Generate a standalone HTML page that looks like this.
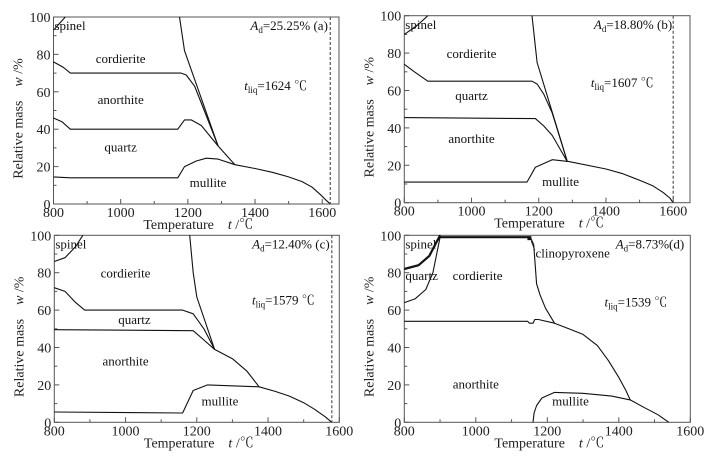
<!DOCTYPE html>
<html><head><meta charset="utf-8">
<style>
html,body{margin:0;padding:0;background:#fff;}
svg{display:block;font-family:"Liberation Serif","Noto Serif CJK SC",serif;}
</style></head>
<body>
<svg id="fig" width="724" height="456" viewBox="0 0 724 456" xmlns="http://www.w3.org/2000/svg"></svg>
<script>
// ---------- data ----------
const xTicks = [800, 1000, 1200, 1400, 1600];
const yTicks = [0, 20, 40, 60, 80, 100];

// Panel (a)
const aSpinel = [[800,93],[835,100]];
const aLiquidus = [[1175,100],[1190,82],[1290,31]];
const aCordAnor = [[800,76],[830,73],[850,70],[1180,70],[1195,69],[1220,63],[1240,54],[1290,31]];
const aAnorQtz = [[800,46],[825,44],[850,40],[1170,40],[1190,45],[1210,45],[1240,42],[1290,31],[1340,21]];
const aQtzMul = [[800,14.5],[850,14],[1170,14],[1190,20],[1225,23],[1255,24.5],[1290,24],[1340,21],[1400,19],[1450,17],[1500,14.5],[1540,12],[1570,9],[1595,5],[1612,2],[1624,0]];
const aLiq = 1624;

// Panel (b)
const bSpinel = [[800,90],[840,95],[870,100]];
const bLiquidus = [[1180,100],[1195,75],[1285,22]];
const bCordQtz = [[800,74],[830,70],[870,65],[1180,65],[1195,63.5],[1215,58],[1240,48],[1285,22]];
const bQtzAnor = [[800,45.5],[1190,45],[1215,41],[1240,36],[1285,22]];
const bAnorMul = [[800,11],[1165,11],[1190,19],[1240,23],[1290,22],[1400,18],[1450,15.5],[1500,12],[1540,9],[1570,5.5],[1590,2.5],[1600,0]];
const bLiq = 1600;

// Panel (c)
const cSpinel = [[800,86],[830,88],[860,94],[880,100]];
const cLiquidus = [[1180,100],[1190,80],[1200,67],[1250,39]];
const cCordQtz = [[800,72],[830,70],[860,64],[885,60],[1160,60],[1190,58],[1220,50],[1250,39]];
const cQtzAnor = [[800,49.5],[1190,49],[1220,44],[1250,39],[1300,34],[1340,27.5],[1375,19]];
const cAnorMul = [[800,5.5],[1160,5],[1190,17],[1230,20],[1375,19],[1420,16.5],[1460,14],[1500,10.5],[1530,7],[1560,3],[1579,0]];
const cLiq = 1579;

// Panel (d)
const dSpinelQtz = [[800,82],[840,84],[870,89],[900,100]];
const dQtzCord = [[800,64],[830,66],[860,71],[880,80],[900,99]];
const dTop = [[900,99],[1150,99]];
const dCordRight = [[1155,98],[1162,95],[1170,74],[1180,68],[1195,61],[1220,53]];
const dAnorTop = [[800,54],[1145,54],[1150,53],[1160,53],[1165,55],[1175,55],[1220,53],[1260,50],[1300,47],[1340,41],[1371,33],[1400,24],[1420,17],[1432,12]];
const dMullite = [[1160,0],[1163,5],[1170,9],[1185,13],[1220,16],[1300,15.5],[1380,14],[1432,12],[1470,8],[1510,4],[1540,0]];

const NS = "http://www.w3.org/2000/svg";
const svg = document.getElementById('fig');

function mk(tag, attrs, parent){
  const e = document.createElementNS(NS, tag);
  for (const k in attrs) e.setAttribute(k, attrs[k]);
  (parent||svg).appendChild(e);
  return e;
}

function panel(id, box, xmax){
  const g = mk('g', {});
  
  
  const sx = v => box.x0 + (v - 800) / (xmax - 800) * (box.x1 - box.x0);
  const sy = v => box.y0 + (100 - v) / 100 * (box.y1 - box.y0);
  const frame = mk('rect', {x:box.x0, y:box.y0, width:box.x1-box.x0, height:box.y1-box.y0, fill:'none', stroke:'#555', 'stroke-width':1}, g);
  
  
  for (let t = 800; t <= xmax; t += 100){
    const major = (t % 200 === 0);
    mk('line', {x1:sx(t), x2:sx(t), y1:box.y1, y2:box.y1 - (major?5:3), stroke:'#555'}, g);
  }
  xTicks.forEach(t => {
    if (t > xmax) return;
    const tx = mk('text', {x:sx(t), y:box.y1 + 13, 'font-size':14, 'text-anchor':'middle', fill:'#222'}, g);
    tx.textContent = t;
    
    
  });
  for (let v = 0; v <= 100; v += 10){
    mk('line', {x1:box.x0, x2:box.x0 + (v%20===0?5:3), y1:sy(v), y2:sy(v), stroke:'#555'}, g);
  }
  yTicks.forEach(v => {
    const ty = mk('text', {x:box.x0 - 3, y:sy(v) + 5, 'font-size':14, 'text-anchor':'end', fill:'#222'}, g);
    ty.textContent = v;
    
    
  });
  const yt = mk('text', {transform:`translate(${box.x0-31},${(box.y0+box.y1)/2+8}) rotate(-90)`, 'font-size':14, 'text-anchor':'middle', fill:'#222'}, g);
  yt.innerHTML = 'Relative mass\u00a0\u00a0\u00a0\u00a0<tspan font-style="italic">w</tspan> /%';
  
  
  const xt = mk('text', {x:(box.x0+box.x1)/2 + 2, y:box.y1 + 25, 'font-size':14, 'text-anchor':'middle', fill:'#222'}, g);
  xt.innerHTML = 'Temperature\u00a0\u00a0\u00a0\u00a0<tspan font-style="italic">t</tspan> /℃';
  
  
  return {g, sx, sy, box};
}

function line(P, pts, name, w){
  const d = pts.map((p,i) => (i?'L':'M') + P.sx(p[0]).toFixed(1) + ',' + P.sy(p[1]).toFixed(1)).join('');
  const e = mk('path', {d, fill:'none', stroke:'#111', 'stroke-width':w||1.1, 'stroke-linejoin':'round'}, P.g);
  
  
  return e;
}
function label(P, tx, ty, html, name, anchor, size){
  const e = mk('text', {x:P.sx(tx), y:P.sy(ty), 'font-size':size||13, 'text-anchor':anchor||'middle', fill:'#111'}, P.g);
  e.innerHTML = html;
  
  
  return e;
}
function liqLine(P, t, name){
  const e = mk('line', {x1:P.sx(t), x2:P.sx(t), y1:P.box.y0, y2:P.box.y1, stroke:'#555', 'stroke-width':1.2, 'stroke-dasharray':'3,2'}, P.g);
  
  
}
const sub = s => `<tspan font-size="9" dy="3">${s}</tspan><tspan dy="-3">`;

// Panel a
const A = panel('a', {x0:53.5, x1:339, y0:17, y1:204}, 1650);
line(A, aSpinel, 'spinel-boundary');
line(A, aLiquidus, 'liquidus-line');
line(A, aCordAnor, 'cordierite-anorthite-boundary');
line(A, aAnorQtz, 'anorthite-quartz-boundary');
line(A, aQtzMul, 'quartz-mullite-boundary');
liqLine(A, aLiq, 'liquidus-temperature-line');
label(A, 803, 93, 'spinel', 'spinel-label', 'start');
label(A, 1000, 75.5, 'cordierite', 'cordierite-label');
label(A, 1000, 53.5, 'anorthite', 'anorthite-label');
label(A, 1000, 28, 'quartz', 'quartz-label');
label(A, 1260, 9, 'mullite', 'mullite-label');
label(A, 1617, 93, '<tspan font-style="italic">A</tspan>'+sub('d')+'=25.25% (a)</tspan>', 'ad-annotation', 'end');
label(A, 1368, 61, '<tspan font-style="italic">t</tspan>'+sub('liq')+'=1624 ℃</tspan>', 'tliq-annotation', 'start');

// Panel b
const B = panel('b', {x0:404.3, x1:690, y0:15.7, y1:202.7}, 1650);
line(B, bSpinel, 'spinel-boundary');
line(B, bLiquidus, 'liquidus-line');
line(B, bCordQtz, 'cordierite-quartz-boundary');
line(B, bQtzAnor, 'quartz-anorthite-boundary');
line(B, bAnorMul, 'anorthite-mullite-boundary');
liqLine(B, bLiq, 'liquidus-temperature-line');
label(B, 803, 93, 'spinel', 'spinel-label', 'start');
label(B, 1000, 77.5, 'cordierite', 'cordierite-label');
label(B, 1000, 55, 'quartz', 'quartz-label');
label(B, 1000, 32, 'anorthite', 'anorthite-label');
label(B, 1265, 9, 'mullite', 'mullite-label');
label(B, 1597, 93, '<tspan font-style="italic">A</tspan>'+sub('d')+'=18.80% (b)</tspan>', 'ad-annotation', 'end');
label(B, 1355, 62, '<tspan font-style="italic">t</tspan>'+sub('liq')+'=1607 ℃</tspan>', 'tliq-annotation', 'start');

// Panel c
const C = panel('c', {x0:54.3, x1:339.3, y0:235.3, y1:422.3}, 1600);
line(C, cSpinel, 'spinel-boundary');
line(C, cLiquidus, 'liquidus-line');
line(C, cCordQtz, 'cordierite-quartz-boundary');
line(C, cQtzAnor, 'quartz-anorthite-boundary');
line(C, cAnorMul, 'anorthite-mullite-boundary');
liqLine(C, cLiq, 'liquidus-temperature-line');
label(C, 803, 93, 'spinel', 'spinel-label', 'start');
label(C, 1000, 77.5, 'cordierite', 'cordierite-label');
label(C, 1025, 52.5, 'quartz', 'quartz-label');
label(C, 1000, 30.5, 'anorthite', 'anorthite-label');
label(C, 1265, 9, 'mullite', 'mullite-label');
label(C, 1573, 93, '<tspan font-style="italic">A</tspan>'+sub('d')+'=12.40%  (c)</tspan>', 'ad-annotation', 'end');
label(C, 1355, 63, '<tspan font-style="italic">t</tspan>'+sub('liq')+'=1579 ℃</tspan>', 'tliq-annotation', 'start');

// Panel d
const D = panel('d', {x0:404.3, x1:690.3, y0:235.3, y1:422.3}, 1600);
line(D, dSpinelQtz, 'spinel-quartz-boundary', 2.2);
line(D, dQtzCord, 'quartz-cordierite-boundary');
line(D, dTop, 'cordierite-top-boundary', 2.2);
line(D, dCordRight, 'cordierite-right-boundary');
line(D, dAnorTop, 'anorthite-top-boundary');
line(D, dMullite, 'mullite-boundary');
const sq = mk('rect', {x:D.sx(1150)-2, y:D.sy(99)-1, width:4, height:4, fill:'#111'}, D.g);


const ld = mk('line', {x1:D.sx(1155), y1:D.sy(97), x2:D.sx(1165), y2:D.sy(92), stroke:'#111', 'stroke-width':0.8}, D.g);


label(D, 803, 93, 'spinel', 'spinel-label', 'start');
label(D, 803, 76, 'quartz', 'quartz-label', 'start');
label(D, 1005, 76, 'cordierite', 'cordierite-label');
label(D, 1167, 88, 'clinopyroxene', 'clinopyroxene-label', 'start');
label(D, 1583, 93, '<tspan font-style="italic">A</tspan>'+sub('d')+'=8.73%(d)</tspan>', 'ad-annotation', 'end');
label(D, 1360, 62, '<tspan font-style="italic">t</tspan>'+sub('liq')+'=1539 ℃</tspan>', 'tliq-annotation', 'start');
label(D, 1000, 18, 'anorthite', 'anorthite-label');
label(D, 1265, 9, 'mullite', 'mullite-label');
</script>
</body></html>
